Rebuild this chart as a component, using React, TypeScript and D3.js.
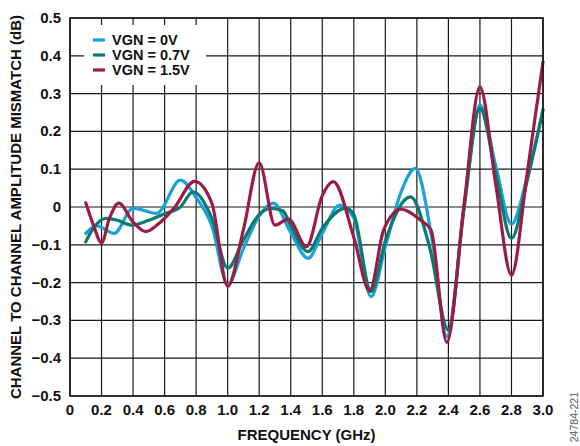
import React from "react";
import * as d3 from "d3";

const xTicks = [0, 0.2, 0.4, 0.6, 0.8, 1.0, 1.2, 1.4, 1.6, 1.8, 2.0, 2.2, 2.4, 2.6, 2.8, 3.0];
const yTicks = [0.5, 0.4, 0.3, 0.2, 0.1, 0, -0.1, -0.2, -0.3, -0.4, -0.5];

const freq0V = [0.10, 0.17, 0.28, 0.40, 0.55, 0.70, 0.80, 0.90, 1.00, 1.10, 1.20, 1.29, 1.40, 1.51, 1.60, 1.71, 1.80, 1.91, 2.00, 2.10, 2.19, 2.30, 2.39, 2.50, 2.60, 2.70, 2.80, 2.90, 3.00];
const val0V = [-0.070, -0.050, -0.070, -0.003, -0.017, 0.071, 0.025, -0.050, -0.205, -0.110, -0.024, 0.010, -0.068, -0.136, -0.070, 0.005, -0.030, -0.237, -0.105, 0.040, 0.102, -0.095, -0.343, 0.000, 0.270, 0.110, -0.045, 0.080, 0.258];

const freq07V = [0.10, 0.15, 0.23, 0.30, 0.39, 0.50, 0.60, 0.70, 0.78, 0.90, 1.00, 1.10, 1.20, 1.27, 1.35, 1.40, 1.51, 1.60, 1.75, 1.80, 1.91, 2.00, 2.16, 2.28, 2.40, 2.50, 2.60, 2.70, 2.80, 2.90, 3.00];
const val07V = [-0.092, -0.055, -0.030, -0.035, -0.048, -0.035, -0.018, 0.000, 0.040, -0.030, -0.162, -0.087, -0.020, -0.004, -0.010, -0.050, -0.118, -0.056, -0.003, -0.020, -0.224, -0.090, 0.027, -0.105, -0.325, 0.000, 0.261, 0.090, -0.083, 0.070, 0.257];

const freq15V = [0.10, 0.15, 0.20, 0.25, 0.31, 0.40, 0.48, 0.56, 0.66, 0.79, 0.90, 1.00, 1.10, 1.20, 1.30, 1.385, 1.50, 1.60, 1.67, 1.80, 1.90, 1.99, 2.10, 2.22, 2.29, 2.39, 2.50, 2.60, 2.70, 2.80, 2.90, 3.00];
const val15V = [0.011, -0.050, -0.095, -0.030, 0.010, -0.040, -0.065, -0.045, -0.003, 0.068, 0.010, -0.210, -0.060, 0.117, -0.048, -0.032, -0.105, 0.030, 0.067, -0.080, -0.222, -0.060, -0.006, -0.034, -0.061, -0.358, 0.010, 0.318, 0.060, -0.180, 0.090, 0.384];

const seriesNames = ["VGN = 0V", "VGN = 0.7V", "VGN = 1.5V"];
const seriesColors = ["#1ba3d9", "#0b7a70", "#9b1c47"];

const W = 580;
const H = 446;
const left = 70;
const right = 543;
const top = 18;
const bottom = 396;
const FONT = "'Liberation Sans', Arial, sans-serif";

export default function App() {
  const x = d3.scaleLinear().domain([0, 3]).range([left, right]);
  const y = d3.scaleLinear().domain([-0.5, 0.5]).range([bottom, top]);

  const line = d3
    .line<[number, number]>()
    .x((d) => x(d[0]))
    .y((d) => y(d[1]))
    .curve(d3.curveMonotoneX);

  const series = [
    { f: freq0V, v: val0V },
    { f: freq07V, v: val07V },
    { f: freq15V, v: val15V },
  ].map((s, i) => ({
    name: seriesNames[i],
    color: seriesColors[i],
    path: line(s.f.map((f, j) => [f, s.v[j]] as [number, number])) || "",
  }));

  const fmtY = (v: number) => (v === 0 ? "0" : (v < 0 ? "\u2212" : "") + Math.abs(v).toFixed(1));
  const fmtX = (v: number) => (v === 0 ? "0" : v.toFixed(1));

  return (
    <svg width={W} height={H} style={{ position: "absolute", left: 0, top: 0, background: "#fff" }}>
      <rect x={0} y={0} width={W} height={H} fill="#fff" />
      {xTicks.map((t) => (
        <line key={"gx" + t} x1={x(t)} x2={x(t)} y1={top} y2={bottom} stroke="#1a1a1a" strokeWidth={1.2} />
      ))}
      {yTicks.map((t) => (
        <line key={"gy" + t} x1={left} x2={right} y1={y(t)} y2={y(t)} stroke="#1a1a1a" strokeWidth={1.2} />
      ))}
      {series.map((s) => (
        <path key={s.name} d={s.path} fill="none" stroke={s.color} strokeWidth={3.2} strokeLinejoin="round" strokeLinecap="round" />
      ))}
      <rect x={84} y={25} width={122} height={60} fill="#fff" />
      {series.map((s, i) => (
        <g key={"lg" + i}>
          <line x1={93} x2={105} y1={40 + i * 15} y2={40 + i * 15} stroke={s.color} strokeWidth={3.2} />
          <text x={112} y={45 + i * 15} fontFamily={FONT} fontWeight="bold" fontSize={14.5} fill="#111">
            {s.name}
          </text>
        </g>
      ))}
      <rect x={left} y={top} width={right - left} height={bottom - top} fill="none" stroke="#111" strokeWidth={1.5} />
      {yTicks.map((t) => (
        <text key={"ly" + t} x={61} y={y(t) + 5} textAnchor="end" fontFamily={FONT} fontWeight="bold" fontSize={15} fill="#111">
          {fmtY(t)}
        </text>
      ))}
      {xTicks.map((t) => (
        <text key={"lx" + t} x={x(t)} y={415} textAnchor="middle" fontFamily={FONT} fontWeight="bold" fontSize={15} fill="#111">
          {fmtX(t)}
        </text>
      ))}
      <text x={(left + right) / 2} y={440} textAnchor="middle" fontFamily={FONT} fontWeight="bold" fontSize={15} fill="#111">
        FREQUENCY (GHz)
      </text>
      <text
        transform={`translate(21, ${(top + bottom) / 2}) rotate(-90)`}
        textAnchor="middle"
        fontFamily={FONT}
        fontWeight="bold"
        fontSize={15}
        fill="#111"
      >
        CHANNEL TO CHANNEL AMPLITUDE MISMATCH (dB)
      </text>
      <text
        transform={`translate(578, 392) rotate(-90)`}
        textAnchor="end"
        fontFamily={FONT}
        fontSize={10.5}
        fill="#555"
      >
        24784-221
      </text>
    </svg>
  );
}
